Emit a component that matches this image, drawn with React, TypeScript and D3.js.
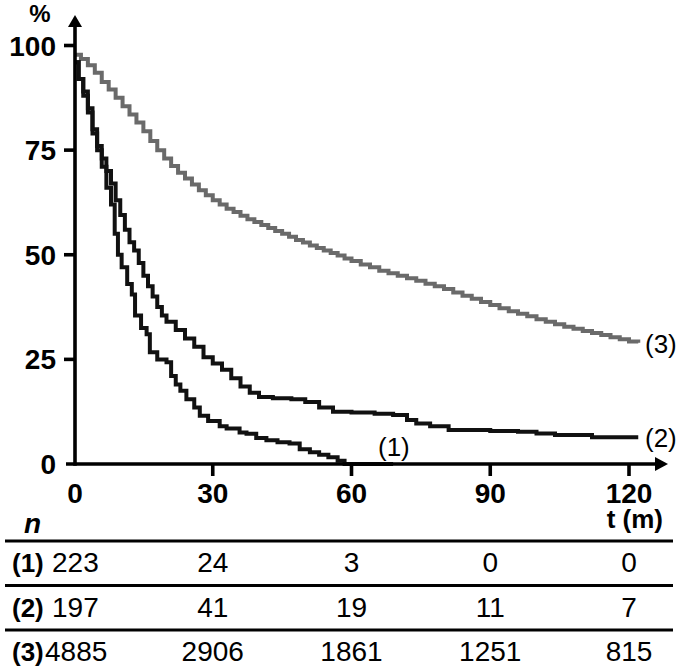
import React from "react";
import * as d3 from "d3";

// survival curves: [months, percent]
const curve1: [number, number][] = [
  [0, 96], [1, 92], [2, 88], [3, 84], [4, 79], [5, 75], [6, 71], [7, 66], [8, 62],
  [8.8, 55], [9.5, 50], [10.3, 47], [11.5, 43], [12.5, 40.5], [13.2, 35.5], [14.5, 32.5],
  [15.7, 31], [16.4, 26.7], [18, 25], [20, 24.3], [21, 21], [22, 19], [23, 17.5],
  [24.3, 15.5], [26, 13.5], [27.2, 11.5], [29, 10.3], [31.5, 9], [33, 8.5], [35.8, 7.5],
  [37.3, 7.2], [39.4, 6.2], [41.6, 5.7], [44, 5.2], [46.6, 4.9], [48.8, 3.5], [51, 2.8],
  [53, 2.2], [55, 1.6], [57, 0.8], [58.5, 0], [69, 0],
];

const curve2: [number, number][] = [
  [0, 96], [1, 92], [2, 89], [3, 85], [4, 80], [5, 76], [6, 73], [7, 70], [8, 67],
  [9, 63], [10, 59.5], [11, 56], [12, 53], [13, 51], [14, 48], [15, 45], [16, 42.5],
  [17, 40], [18, 37.5], [19, 35.5], [20, 34], [22, 32], [24, 30], [26, 28], [28, 25.5],
  [30, 24], [32, 22.5], [34, 20.5], [36, 18.5], [38, 17], [40, 16], [43, 15.7], [47, 15.5],
  [50, 14.8], [53, 13.5], [56, 12.5], [60, 12.3], [65, 12], [69, 11.7], [72, 10.5],
  [74, 9.7], [77, 9], [81, 8.1], [90, 7.9], [96, 7.7], [100, 7.3], [104, 6.9], [112, 6.4],
  [122, 6.4],
];

const curve3: [number, number][] = [
  [0, 97.8], [1.5, 96.8], [3, 95.3], [4.5, 93.5], [6, 91.3], [7.5, 89.5], [9, 87.5],
  [10.5, 85.5], [12, 83.5], [13.5, 81.6], [15, 79.5], [16.5, 77.2], [18, 75], [19.5, 73],
  [21, 71.2], [22.5, 69.6], [24, 68.2], [25.5, 66.8], [27, 65.4], [28.5, 64.2], [30, 63],
  [31.5, 62], [33, 61], [34.5, 60.2], [36, 59.3], [37.5, 58.5], [39, 57.8], [40.5, 57.1],
  [42, 56.4], [43.5, 55.7], [45, 55], [46.5, 54.3], [48, 53.5], [49.5, 52.9], [51, 52.2],
  [52.5, 51.6], [54, 51], [55.5, 50.4], [57, 49.8], [58.5, 49.1], [60, 48.5], [62, 47.7],
  [64, 47], [66, 46.2], [68, 45.6], [70, 45], [72, 44.4], [74, 43.8], [76, 43.1], [78, 42.5],
  [80, 41.8], [82, 41], [84, 40.2], [86, 39.5], [88, 38.7], [90, 38], [92, 37.2], [94, 36.5],
  [96, 35.9], [98, 35.3], [100, 34.6], [102, 34], [104, 33.4], [106, 32.8], [108, 32.3],
  [110, 31.8], [112, 31.3], [114, 30.8], [116, 30.3], [118, 29.8], [120, 29.3], [122, 29],
];

const xTicks = [0, 30, 60, 90, 120];
const yTicks = [0, 25, 50, 75, 100];

// numbers at risk
const rowLabels = ["(1)", "(2)", "(3)"];
const atRisk1 = [223, 24, 3, 0, 0];
const atRisk2 = [197, 41, 19, 11, 7];
const atRisk3 = [4885, 2906, 1861, 1251, 815];

const FONT = "'Liberation Sans', Arial, Helvetica, sans-serif";

export default function App() {
  const x = d3.scaleLinear().domain([0, 120]).range([74, 629]);
  const y = d3.scaleLinear().domain([0, 100]).range([464, 45.5]);

  const line = d3
    .line<[number, number]>()
    .x((d) => x(d[0]))
    .y((d) => y(d[1]))
    .curve(d3.curveStepAfter);

  const curves = [
    { data: curve3, color: "#6a6a6a" },
    { data: curve2, color: "#111" },
    { data: curve1, color: "#111" },
  ];

  const rows = [atRisk1, atRisk2, atRisk3];
  const lineY = [541, 585.5, 630];

  const axisX0 = x(0) + 1;
  const axisY0 = y(0);

  return (
    <svg
      width={680}
      height={666}
      style={{ position: "absolute", left: 0, top: 0, background: "#fff" }}
      fontFamily={FONT}
    >
      {/* curves */}
      {curves.map((c, i) => (
        <path
          key={i}
          d={line(c.data) || ""}
          fill="none"
          stroke={c.color}
          strokeWidth={4}
          strokeLinejoin="miter"
        />
      ))}

      {/* axes */}
      <line x1={66} y1={axisY0} x2={656} y2={axisY0} stroke="#000" strokeWidth={3.6} />
      <path d={`M668,${axisY0} L655,${axisY0 - 7} L655,${axisY0 + 7} Z`} fill="#000" />
      <line x1={axisX0} y1={axisY0 + 1.8} x2={axisX0} y2={26} stroke="#000" strokeWidth={3.6} />
      <path d={`M${axisX0},15 L${axisX0 - 7},27 L${axisX0 + 7},27 Z`} fill="#000" />

      {xTicks.slice(1).map((t) => (
        <line key={t} x1={x(t)} x2={x(t)} y1={axisY0} y2={axisY0 + 12} stroke="#000" strokeWidth={3.6} />
      ))}
      {yTicks.slice(1).map((t) => (
        <line key={t} x1={64} x2={axisX0} y1={y(t)} y2={y(t)} stroke="#000" strokeWidth={3.6} />
      ))}

      {xTicks.map((t) => (
        <text key={t} x={t === 0 ? 75 : x(t)} y={503} textAnchor="middle" fontSize={28} fontWeight="bold">
          {t}
        </text>
      ))}
      {yTicks.map((t) => (
        <text key={t} x={56} y={y(t) + 10} textAnchor="end" fontSize={28} fontWeight="bold">
          {t}
        </text>
      ))}

      <text x={40} y={22} textAnchor="middle" fontSize={24} fontWeight="bold">%</text>
      <text x={663} y={528} textAnchor="end" fontSize={26} fontWeight="bold">t (m)</text>

      {/* curve labels */}
      <text x={645} y={353} fontSize={26}>(3)</text>
      <text x={645} y={447} fontSize={26}>(2)</text>
      <text x={378} y={456} fontSize={26}>(1)</text>

      {/* at-risk table */}
      <text x={24} y={533} fontSize={28} fontWeight="bold" fontStyle="italic">n</text>
      {lineY.map((ly, i) => (
        <line key={i} x1={5} x2={673} y1={ly} y2={ly} stroke="#000" strokeWidth={3} />
      ))}
      {rows.map((vals, r) => (
        <g key={r}>
          <text x={12} y={lineY[r] + 31} fontSize={26} fontWeight="bold">{rowLabels[r]}</text>
          {vals.map((v, j) =>
            j === 0 ? (
              <text key={j} x={r === 2 ? 45 : 52} y={lineY[r] + 31} fontSize={28}>{v}</text>
            ) : (
              <text key={j} x={x(xTicks[j])} y={lineY[r] + 31} textAnchor="middle" fontSize={28}>{v}</text>
            )
          )}
        </g>
      ))}
    </svg>
  );
}
